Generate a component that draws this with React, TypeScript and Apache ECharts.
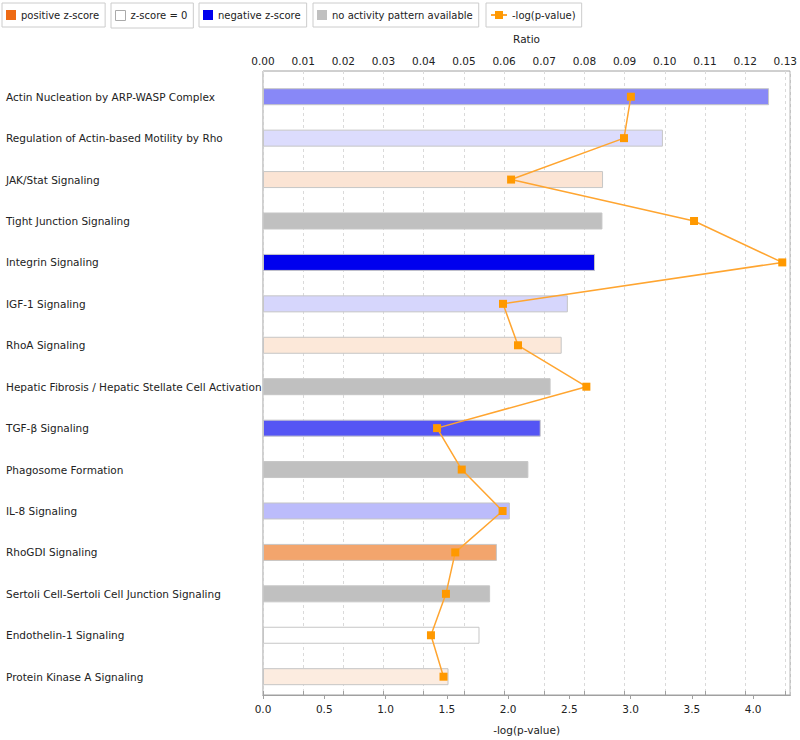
import React, { useEffect, useRef } from "react";
import * as echarts from "echarts";

const categories = [
  "Actin Nucleation by ARP-WASP Complex",
  "Regulation of Actin-based Motility by Rho",
  "JAK/Stat Signaling",
  "Tight Junction Signaling",
  "Integrin Signaling",
  "IGF-1 Signaling",
  "RhoA Signaling",
  "Hepatic Fibrosis / Hepatic Stellate Cell Activation",
  "TGF-β Signaling",
  "Phagosome Formation",
  "IL-8 Signaling",
  "RhoGDI Signaling",
  "Sertoli Cell-Sertoli Cell Junction Signaling",
  "Endothelin-1 Signaling",
  "Protein Kinase A Signaling",
];

const negLogP = [4.1, 3.24, 2.755, 2.75, 2.69, 2.47, 2.42, 2.33, 2.25, 2.15, 2.0, 1.895, 1.84, 1.754, 1.503];
const ratios = [0.0909, 0.0892, 0.0613, 0.1065, 0.1283, 0.0593, 0.063, 0.0799, 0.043, 0.0491, 0.0592, 0.0475, 0.0452, 0.0415, 0.0446];
const zScores: (number | null)[] = [-1.4, -0.41, 0.55, null, -3.0, -0.48, 0.48, null, -2.0, null, -0.79, 1.86, null, 0, 0.4];

const legendNames = ["positive z-score", "z-score = 0", "negative z-score", "no activity pattern available", "-log(p-value)"];
const bottomTicks = { min: 0, max: 4.302, interval: 0.5 };
const topTicks = { min: 0, max: 0.1312, interval: 0.01 };

const FONT = "DejaVu Sans";

function zColor(z: number | null): string {
  if (z === null) return "#c0c0c0";
  if (z === 0) return "#ffffff";
  const t = Math.min(Math.abs(z) / 3, 1);
  let r: number, g: number, b: number;
  if (z < 0) {
    r = 255 * (1 - t);
    g = 255 * (1 - t);
    b = 255 - 17 * t;
  } else {
    r = 255 - 20 * t;
    g = 255 - 145 * t;
    b = 255 - 235 * t;
  }
  const h = (v: number) => Math.round(v).toString(16).padStart(2, "0");
  return "#" + h(r) + h(g) + h(b);
}

export default function App() {
  const ref = useRef<HTMLDivElement>(null);
  useEffect(() => {
    document.body.style.margin = "0";
    const chart = echarts.init(ref.current!, undefined, { renderer: "svg" });
    const textStyle = { fontFamily: FONT, fontSize: 10.5, color: "#222" };
    const legendLefts = [2, 111, 199, 313, 486];
    const legendIcons: any[] = [
      { color: "#ee6a14" },
      { color: "#ffffff", borderColor: "#aaa", borderWidth: 1 },
      { color: "#0000ee" },
      { color: "#c0c0c0" },
      null,
    ];
    const legends = legendNames.map((n, i) => ({
      left: legendLefts[i],
      top: 3,
      orient: "horizontal",
      padding: [7, 6, 7, 4],
      borderColor: "#cccccc",
      borderWidth: 1,
      borderRadius: 0,
      itemWidth: i === 4 ? 16 : 10,
      itemHeight: 10,
      itemGap: 0,
      selectedMode: false,
      textStyle: { fontFamily: FONT, fontSize: 10, color: "#222" },
      data: [
        i === 4
          ? { name: n }
          : { name: n, icon: "rect", itemStyle: legendIcons[i] },
      ],
    }));

    const dummySeries = legendNames.slice(0, 4).map((n, i) => ({
      name: n,
      type: "line",
      xAxisIndex: 2,
      yAxisIndex: 1,
      data: [],
      itemStyle: { color: legendIcons[i].color },
    }));

    chart.setOption({
      animation: false,
      backgroundColor: "#ffffff",
      legend: legends,
      grid: [
        { left: 263, right: 6, top: 71, bottom: 38, show: true, borderColor: "#a0a0a0", borderWidth: 1, backgroundColor: "transparent" },
        { left: 263, right: 6, top: 76, bottom: 42.6 },
      ],
      xAxis: [
        {
          gridIndex: 0,
          type: "value",
          position: "top",
          min: topTicks.min,
          max: topTicks.max,
          interval: topTicks.interval,
          name: "Ratio",
          nameLocation: "middle",
          nameGap: 27,
          nameTextStyle: textStyle,
          axisLine: { show: true, lineStyle: { color: "#a0a0a0" } },
          axisTick: { show: true, length: 4, lineStyle: { color: "#a0a0a0" } },
          axisLabel: {
            ...textStyle,
            margin: 5,
            showMaxLabel: false,
            formatter: (v: number) => v.toFixed(2),
          },
          splitLine: { show: true, lineStyle: { color: "#dadada", type: [3, 3] } },
        },
        {
          gridIndex: 0,
          type: "value",
          position: "bottom",
          min: bottomTicks.min,
          max: bottomTicks.max,
          interval: bottomTicks.interval,
          name: "-log(p-value)",
          nameLocation: "middle",
          nameGap: 29,
          nameTextStyle: textStyle,
          axisLine: { show: true, lineStyle: { color: "#a0a0a0" } },
          axisTick: { show: true, length: 4, lineStyle: { color: "#a0a0a0" } },
          axisLabel: {
            ...textStyle,
            margin: 8,
            showMaxLabel: false,
            formatter: (v: number) => v.toFixed(1),
          },
          splitLine: { show: false },
        },
        { gridIndex: 1, type: "value", show: false, min: bottomTicks.min, max: bottomTicks.max },
        { gridIndex: 1, type: "value", show: false, min: topTicks.min, max: topTicks.max },
      ],
      yAxis: [
        { gridIndex: 0, type: "value", show: false, min: 0, max: 1, splitLine: { show: false } },
        {
          gridIndex: 1,
          type: "category",
          data: categories,
          inverse: true,
          axisLine: { show: false },
          axisTick: { show: false },
          splitLine: { show: false },
          axisLabel: { ...textStyle, align: "left", margin: 257 },
        },
      ],
      series: [
        ...dummySeries,
        {
          name: "bars",
          type: "bar",
          xAxisIndex: 2,
          yAxisIndex: 1,
          barWidth: 17,
          data: negLogP.map((v, i) => ({
            value: v,
            itemStyle: { color: zColor(zScores[i]), borderColor: "#c6c6c6", borderWidth: 1 },
          })),
        },
        {
          name: "-log(p-value)",
          type: "line",
          xAxisIndex: 3,
          yAxisIndex: 1,
          data: ratios,
          symbol: "rect",
          symbolSize: 8,
          itemStyle: { color: "#ff9900" },
          lineStyle: { color: "#ffa530", width: 1.5 },
          z: 5,
        },
      ],
    });
    return () => chart.dispose();
  }, []);
  return <div ref={ref} style={{ width: 800, height: 740 }} />;
}
